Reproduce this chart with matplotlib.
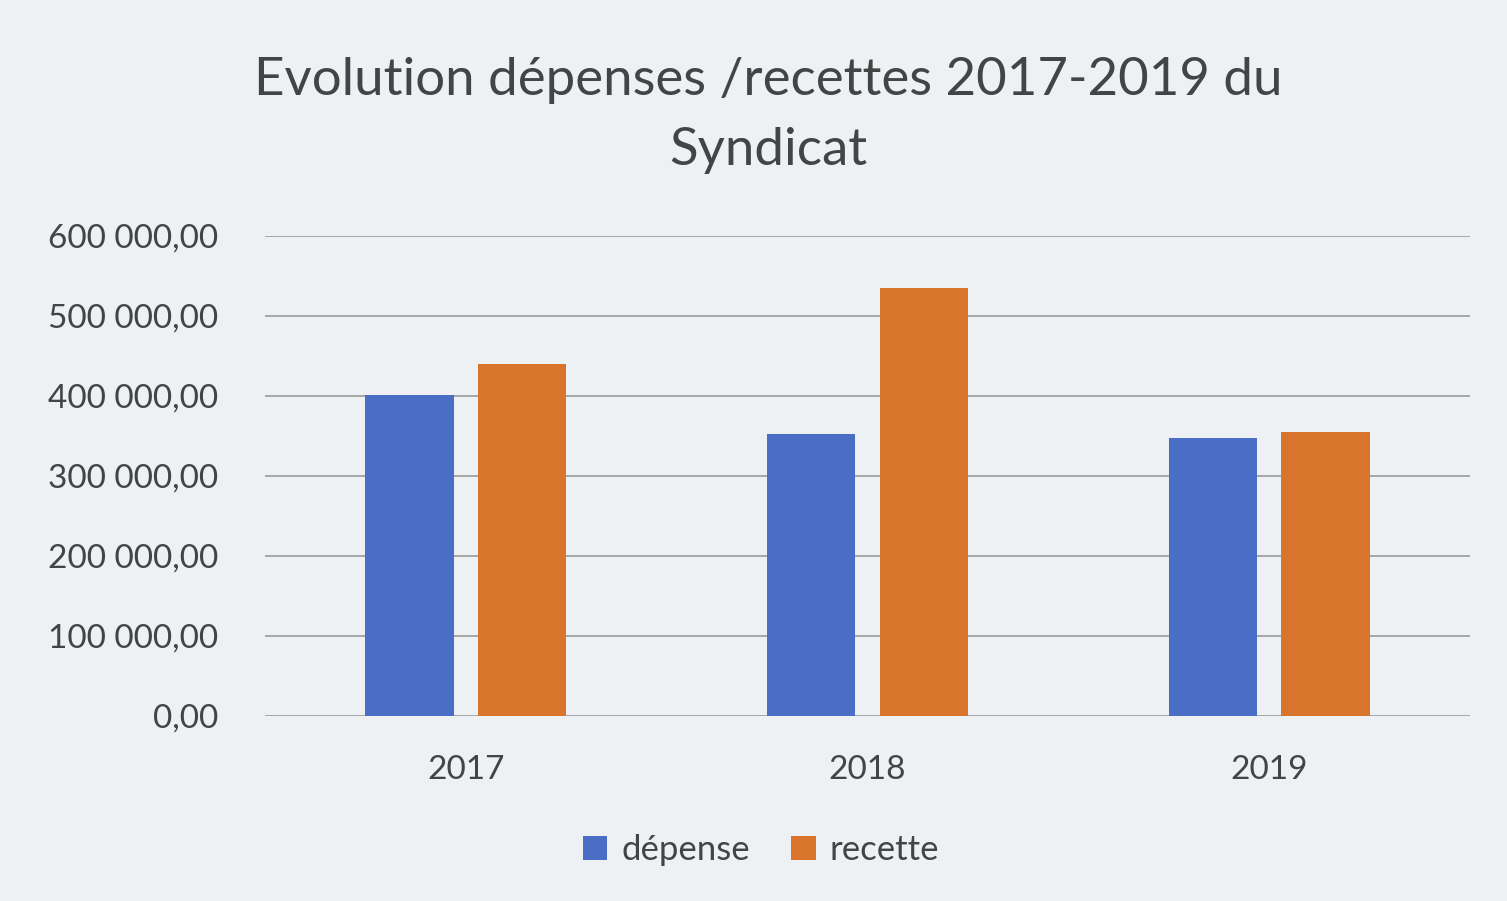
import matplotlib.pyplot as plt
from matplotlib.ticker import FuncFormatter
import numpy as np

years = ['2017', '2018', '2019']
depense = [401000, 353000, 347000]
recette = [440000, 535000, 355000]

plt.rcParams['font.family'] = ['Lato', 'DejaVu Sans']

fig = plt.figure(figsize=(15.07, 9.01), dpi=100)
fig.patch.set_facecolor('#edf1f3')
ax = fig.add_axes([265 / 1507, 1 - 716 / 901, 1205 / 1507, 480 / 901])
ax.set_facecolor('#edf1f3')

x = np.arange(len(years))
w = 0.22
ax.bar(x - 0.14, depense, w, color='#4a6dc6', label='dépense', zorder=3)
ax.bar(x + 0.14, recette, w, color='#d8742c', label='recette', zorder=3)

ax.set_xlim(-0.5, 2.5)
ax.set_ylim(0, 600000)
ax.set_yticks(np.arange(0, 600001, 100000))
ax.yaxis.set_major_formatter(FuncFormatter(
    lambda v, p: '{:,.2f}'.format(v).replace(',', ' ').replace('.', ',')))
ax.grid(axis='y', color='#9a9a9a', linewidth=1.2, zorder=0)
ax.set_xticks(x)
ax.set_xticklabels(years)
ax.tick_params(axis='both', length=0, labelsize=24, colors='#444444')
ax.tick_params(axis='y', pad=34)
ax.tick_params(axis='x', pad=28)
for s in ax.spines.values():
    s.set_visible(False)

fig.text(0.51, 1 - 80 / 901, 'Evolution dépenses /recettes 2017-2019 du',
         ha='center', va='center', fontsize=38, color='#444444')
fig.text(0.51, 1 - 150 / 901, 'Syndicat',
         ha='center', va='center', fontsize=38, color='#444444')

fig.legend(loc='center', bbox_to_anchor=(0.505, 1 - 850 / 901), ncol=2,
           frameon=False, fontsize=25, handlelength=0.7, handleheight=0.7,
           columnspacing=1.2, handletextpad=0.4, labelcolor='#444444')

plt.savefig('out.png', dpi=100, facecolor=fig.get_facecolor())
